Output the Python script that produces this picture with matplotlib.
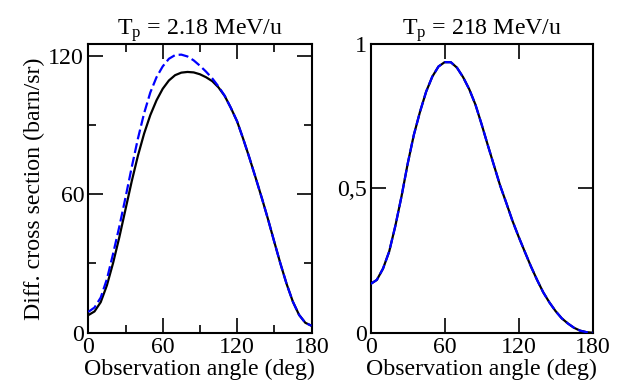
import matplotlib
matplotlib.use("Agg")
import matplotlib.pyplot as plt
from matplotlib.ticker import MultipleLocator

plt.rcParams['font.family'] = ['Liberation Serif', 'DejaVu Serif']
plt.rcParams['mathtext.fontset'] = 'custom'
plt.rcParams['mathtext.rm'] = 'Liberation Serif'
plt.rcParams['mathtext.it'] = 'Liberation Serif:italic'

angles = list(range(0, 181, 5))

# Left panel: T_p = 2.18 MeV/u
low_black = [7.6, 9.2, 13.2, 20.5, 30.2, 41.3, 53.4, 65.5, 76.6, 86.2, 94.2, 100.6,
             105.6, 109.2, 111.5, 112.6, 112.9, 112.7, 111.9, 110.6, 108.9, 106.2,
             102.5, 97.3, 91.5, 83.8, 75.6, 67.0, 58.2, 49.0, 39.3, 29.8, 21.0,
             13.4, 7.7, 4.3, 3.0]
low_blue = [9.0, 10.9, 15.2, 23.2, 34.2, 45.9, 58.5, 71.6, 84.0, 95.0, 104.0, 110.6,
            115.3, 118.6, 120.2, 120.4, 119.6, 117.9, 115.6, 113.0, 110.1, 106.6,
            102.6, 97.3, 91.5, 83.8, 75.6, 67.0, 58.2, 49.0, 39.3, 29.8, 21.0,
            13.4, 7.7, 4.3, 3.0]

# Right panel: T_p = 218 MeV/u
high_black = [0.169, 0.183, 0.222, 0.281, 0.370, 0.472, 0.585, 0.685, 0.765, 0.835,
              0.887, 0.922, 0.937, 0.937, 0.918, 0.885, 0.843, 0.790, 0.722, 0.650,
              0.580, 0.510, 0.450, 0.388, 0.333, 0.281, 0.230, 0.183, 0.140, 0.105,
              0.075, 0.050, 0.032, 0.017, 0.007, 0.002, 0.0]
high_blue = list(high_black)

x_ticks = [0, 60, 120, 180]
left_yticks = [0, 60, 120]
right_yticks = [0, 0.5, 1]
right_ylabels = ['0', '0,5', '1']

fig = plt.figure(figsize=(6.23, 3.88), dpi=100)
W, H = 623, 388
axL = fig.add_axes([88.3 / W, (H - 332.7) / H, (311.5 - 88.3) / W, (332.7 - 44) / H])
axR = fig.add_axes([370.7 / W, (H - 332.7) / H, (592.5 - 370.7) / W, (332.7 - 44) / H])

FS = 17.2
for ax in (axL, axR):
    for s in ax.spines.values():
        s.set_linewidth(1.5)
    ax.tick_params(which='both', direction='in', top=True, right=True,
                   labelsize=FS, width=1.2, pad=3)
    ax.tick_params(which='major', length=10.5)
    ax.tick_params(which='minor', length=5.5)
    ax.set_xlim(0, 180)
    ax.set_xticks(x_ticks)
    ax.set_xticklabels([str(t) for t in x_ticks])
    ax.set_xlabel('Observation angle (deg)', fontsize=FS, labelpad=1)

axL.plot(angles, low_black, color='black', lw=1.6, zorder=3)
axL.plot(angles, low_blue, color='#0000ff', lw=1.6, dashes=(4.5, 1.8), zorder=4)
axL.set_ylim(0, 125)
axL.set_yticks(left_yticks)
axL.set_yticklabels([str(t) for t in left_yticks])
axL.xaxis.set_minor_locator(MultipleLocator(30))
axL.yaxis.set_minor_locator(MultipleLocator(30))
axL.set_ylabel('Diff. cross section (barn/sr)', fontsize=FS, labelpad=2)
axL.set_title(r'T$_\mathregular{p}$ = 2.18 MeV/u', fontsize=FS, pad=7)

axR.plot(angles, high_black, color='black', lw=1.6, zorder=3)
axR.plot(angles, high_blue, color='#0000ff', lw=1.6, dashes=(4.5, 1.8), zorder=4)
axR.set_ylim(0, 1.0)
axR.set_yticks(right_yticks)
axR.set_yticklabels(right_ylabels)
axR.set_title(r'T$_\mathregular{p}$ = 218 MeV/u', fontsize=FS, pad=7)

fig.savefig('out.png', dpi=100)
